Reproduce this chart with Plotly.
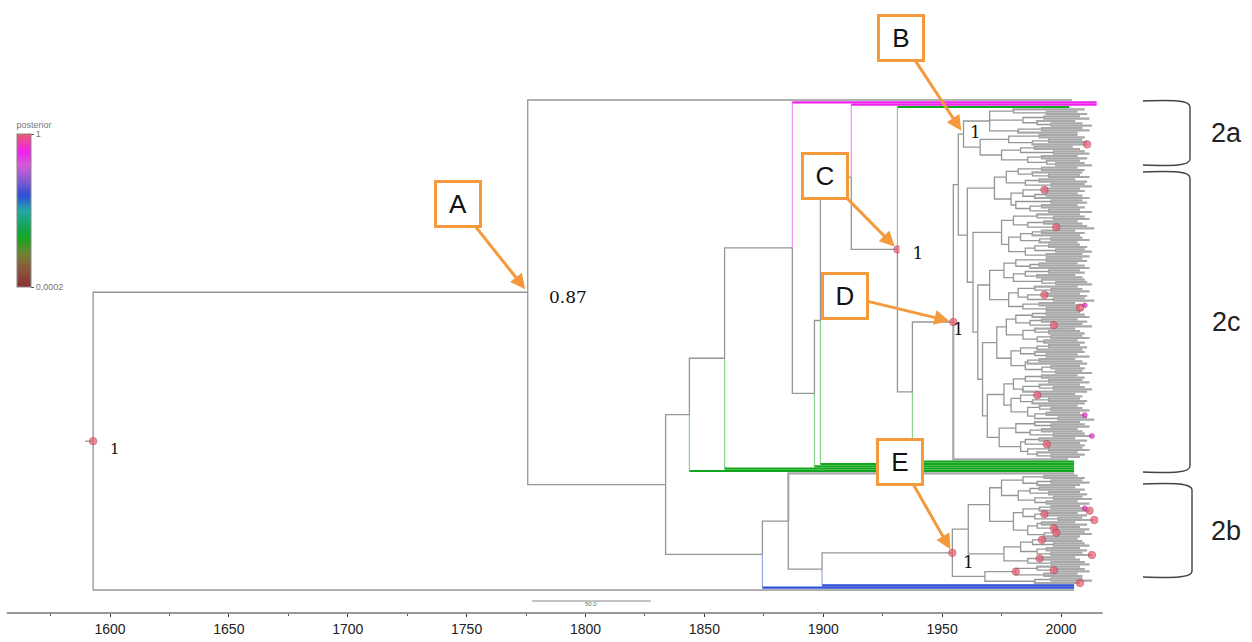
import re
import plotly.graph_objects as go

# ---------------------------------------------------------------------------
# Time-scaled tree, written as "(child,child)date" (dates in years AD).
# Decorations after a date:
#   ^v  branch coloured by its posterior v
#   *   node dot for posterior 1,  +  node dot for posterior 0.88
#   #X  named node (used for labels and call-outs)
# ---------------------------------------------------------------------------
GREEN, BLUE, MAGENTA = 0.32, 0.6, 0.88

CLADE_2A = ("(((2010,(2007,2011)1994)1980,((2008,2012)1993,(2006,(2009,2013)1996)1990)1984,"
            "((2009,2012)1992,2007)1982)1970,(((2007,2010)1991,((2009,2011)1995,2011*)1988)1978,"
            "(((2005,2008)1989,(2010,2012)1997)1983,((2007,2011)1992,(2008,(2010,2013)1998)1994)1986)1975)1966)1959")

CLADE_2C_PARTS = [
    "((((2007,2010)1992,(2009,(2008,2012)1995)1988)1982,((2006,2011)1991,(2010,2013)1996)1985)1977,"
    "(((2008,2010)1993*,((2007,2009)1994,2012)1989)1984,((2009,2011)1996,((2007,2010)1992,(2008,2013)1995)1987)1981)1979)1972",
    "(((2008,(2010,2012)1997)1990,((2007,2009)1993,(2011,2014)1998*)1986)1980,((((2006,2010)1992,2008)1988,"
    "((2009,2012)1996,2007)1991)1983,(((2008,2011)1995,(2010,2013)1998)1989,(2009,2012)1994)1985)1978)1975",
    "((((2009,2011)1994,((2007,2010)1991,2012)1987)1981,(((2008,2010)1995,(2006,2009)1990)1985,"
    "(2010,(2011,2013)1998)1992)1980)1976,(((2007,(2009,2012)1996)1989,((2008,2011)1993*,(2010,2014)1997)1986)1982,"
    "((2006,2010+)1991,(2008*,2009)1994)1984)1978)1970",
    "(((((2008,2010)1994,2012)1988,((2007,2011)1992,(2009,2013)1997*)1987)1981,((2006,(2008,2010)1995)1989,"
    "((2009,2012)1996,(2007,2010)1993)1990)1984)1977,((((2008,2011)1995,2009)1990,(2010,(2007,2012)1994)1989)1983,"
    "(((2006,2009)1991,2011)1986,((2008,2010)1996,(2009,2013)1998)1992)1985)1979)1973",
    "((((2007,2010)1992,(2009,2012)1995)1985,((2008,(2010,2013)1997)1991,2011)1984)1980,(((2006,2009)1990*,"
    "((2008,2011)1995,2010)1988)1983,((2007,(2009,2012)1996)1991,((2008,2010+)1994,(2011,2014)1999)1989)1986)1979)1976",
    "(((2008,(2010,2012)1996)1989,((2007,2009)1992,(2010,2013+)1997)1987)1981,(((2006,2011)1991,(2008,2010)1994*)1985,"
    "((2009,2012)1995,(2007,(2010,2008)1996)1990)1986)1983)1974",
]
CLADE_2C_LADDER_DATES = [1960.6, 1963.0, 1965.0, 1967.0, 1969.0]

CLADE_2B_X = ("((((2007,2010)1993,((2009,2012)1996,2008)1990)1984,(((2006,2010)1991,(2008,2011)1995)1987,"
              "((2009,2013)1997,(2007,2012)1994)1989)1982)1975,((((2008,2010+)1996,2012*)1991,"
              "((2007,2011)1993*,(2009,2014*)1999)1989)1984,(((2006,2011)1992,(2008,2012)1997*)1990,"
              "((2010,2013)1998*,2008)1993)1986)1980)1970")
CLADE_2B_Y = ("((((2007,2009)1992*,(2010,2012)1997)1988,((2008,2011)1994,(2009,2013*)1996)1990)1983,"
              "((2006,2008)1991*,(2010,2012)1996)1986)1976")
CLADE_2B_LOWER = "(((2008,(2010,2012)1997*)1990,(2007,2009)1993)1981*,((2009,2013)1996,2008*)1989)1968"

# posterior values printed at named nodes
NODE_POSTERIOR = {"R": "1", "A": "0.87", "B": "1", "C": "1", "D": "1", "E": "1"}
ROOT_STUB_START = 1589.5
SCALE_BAR = (1777.5, 50.0)          # start year, length in years
AXIS_SPAN = (1556.6, 2017.5)
MAJOR_TICKS = [1600, 1650, 1700, 1750, 1800, 1850, 1900, 1950, 2000]
MINOR_TICKS = [1575, 1625, 1675, 1725, 1775, 1825, 1875, 1925, 1975]

POSTERIOR_SCALE = [[0.0, "#8b2f35"], [0.12, "#8a5a3a"], [0.22, "#6f8234"], [0.32, "#12a81e"],
                   [0.40, "#14a45c"], [0.50, "#22a9a8"], [0.60, "#2f4fd6"], [0.70, "#8a5cd2"],
                   [0.80, "#d65ad8"], [0.88, "#f020f0"], [1.0, "#ee5a70"]]

# ---- assemble the full tree --------------------------------------------------
c2c = f"({CLADE_2C_PARTS[4]},{CLADE_2C_PARTS[5]}){CLADE_2C_LADDER_DATES[4]}"
for part, d in zip(CLADE_2C_PARTS[3::-1], CLADE_2C_LADDER_DATES[3::-1]):
    c2c = f"({part},{c2c}){d}"

node_u = f"({CLADE_2A}#B,{c2c})1956.8"
node_d = f"({node_u},2003)1954.7*#D"
node_s = f"({node_d},2005.5^{GREEN})1937.5"
node_c = f"(2003.5^{GREEN},{node_s})1931.2*#C"
node_p = f"(2015^{MAGENTA},{node_c})1911.8"
node_r = f"({node_p},2005.5^{GREEN})1898.8"
node_q = f"({node_r},2005.5^{GREEN})1896.3"
node_n4 = f"(2015^{MAGENTA},{node_q})1887.0"
node_n3 = f"({node_n4},2005.5^{GREEN})1858.5"
node_n2 = f"({node_n3},2005.5^{GREEN})1843.7"
node_e1 = f"({CLADE_2B_X},{CLADE_2B_Y})1961"
node_e = f"({node_e1},{CLADE_2B_LOWER})1954.3*#E"
node_n8 = f"({node_e},2005.5^{BLUE})1899.5"
node_n7 = f"(2005.5,{node_n8})1885.3"
node_n6 = f"({node_n7},2005.5^{BLUE})1874.4"
node_n1 = f"({node_n2},{node_n6})1833.7"
node_a = f"(2004.7,{node_n1})1775.7#A"
TREE = f"({node_a},2005.5)1592.9*#R"

TOKEN = re.compile(r"\(|\)|,|\^[0-9.]+|#\w+|\*|\+|[0-9]+(?:\.[0-9]+)?")


def parse(text):
    toks = TOKEN.findall(text)
    pos = 0

    def node():
        nonlocal pos
        n = {"kids": [], "date": None, "branch": None, "dot": None, "name": None}
        if toks[pos] == "(":
            pos += 1
            n["kids"].append(node())
            while toks[pos] == ",":
                pos += 1
                n["kids"].append(node())
            pos += 1  # ')'
        n["date"] = float(toks[pos])
        pos += 1
        while pos < len(toks) and toks[pos][0] in "^#*+":
            t = toks[pos]
            pos += 1
            if t[0] == "^":
                n["branch"] = float(t[1:])
            elif t[0] == "#":
                n["name"] = t[1:]
            elif t == "*":
                n["dot"] = 1.0
            else:
                n["dot"] = 0.88
        return n

    return node()


root = parse(TREE)

# rectangular layout: tips one slot apart, parents midway between first/last child
tips = []


def layout(n):
    if not n["kids"]:
        n["y"] = len(tips)
        tips.append(n)
    else:
        for k in n["kids"]:
            layout(k)
        n["y"] = (n["kids"][0]["y"] + n["kids"][-1]["y"]) / 2.0


layout(root)
n_tips = len(tips)

all_nodes = []


def walk(n, parent=None):
    n["parent"] = parent
    all_nodes.append(n)
    for k in n["kids"]:
        walk(k, n)


walk(root)
named = {n["name"]: n for n in all_nodes if n["name"]}


def hex_rgb(h):
    return tuple(int(h[i:i + 2], 16) for i in (1, 3, 5))


def scale_rgb(v):
    for (v0, c0), (v1, c1) in zip(POSTERIOR_SCALE[:-1], POSTERIOR_SCALE[1:]):
        if v0 <= v <= v1:
            t = 0 if v1 == v0 else (v - v0) / (v1 - v0)
            a, b = hex_rgb(c0), hex_rgb(c1)
            return tuple(round(a[i] + (b[i] - a[i]) * t) for i in range(3))
    return hex_rgb(POSTERIOR_SCALE[-1][1])


# ---- branch segments ----------------------------------------------------------
def seg_store():
    return {"x": [], "y": []}


gray_inner, gray_tip = seg_store(), seg_store()
col_vert, col_horiz = {}, {}
for n in all_nodes:
    p = n["parent"]
    if p is None:
        gray_inner["x"] += [ROOT_STUB_START, n["date"], None]
        gray_inner["y"] += [n["y"], n["y"], None]
        continue
    if n["branch"] is None:
        st = gray_inner if (n["kids"] or p is root or p["name"] == "A") else gray_tip
        st["x"] += [p["date"], p["date"], n["date"], None]
        st["y"] += [p["y"], n["y"], n["y"], None]
    else:
        v = col_vert.setdefault(n["branch"], seg_store())
        h = col_horiz.setdefault(n["branch"], seg_store())
        v["x"] += [p["date"], p["date"], None]
        v["y"] += [p["y"], n["y"], None]
        h["x"] += [p["date"], n["date"], None]
        h["y"] += [n["y"], n["y"], None]

fig = go.Figure()
fig.add_trace(go.Scatter(x=gray_tip["x"], y=gray_tip["y"], mode="lines",
                         line=dict(color="#a8a8a8", width=2.2), hoverinfo="skip", showlegend=False))
fig.add_trace(go.Scatter(x=gray_inner["x"], y=gray_inner["y"], mode="lines",
                         line=dict(color="#969696", width=1.3), hoverinfo="skip", showlegend=False))
for key in sorted(col_vert):
    r, g, b = scale_rgb(key)
    fig.add_trace(go.Scatter(x=col_vert[key]["x"], y=col_vert[key]["y"], mode="lines",
                             line=dict(color=f"rgba({r},{g},{b},0.5)", width=1.2),
                             hoverinfo="skip", showlegend=False))
    fig.add_trace(go.Scatter(x=col_horiz[key]["x"], y=col_horiz[key]["y"], mode="lines",
                             line=dict(color=f"rgb({r},{g},{b})", width=2.2),
                             hoverinfo="skip", showlegend=False))

# ---- node dots, coloured on the posterior scale (also drives the colour bar) ----
dots = [n for n in all_nodes if n["dot"] is not None]
fig.add_trace(go.Scatter(
    x=[n["date"] for n in dots], y=[n["y"] for n in dots], mode="markers",
    marker=dict(color=[n["dot"] for n in dots], colorscale=POSTERIOR_SCALE, cmin=0.0002, cmax=1,
                size=[7.5 if n["dot"] == 1 else 5 for n in dots],
                line=dict(color="rgba(150,40,60,0.8)", width=0.8),
                showscale=True,
                colorbar=dict(x=17 / 1252, xanchor="left", y=(613 - 119) / 613, yanchor="top",
                              len=168, lenmode="pixels", thickness=14, xpad=0, ypad=0,
                              outlinewidth=1, outlinecolor="#888",
                              tickvals=[0.0002, 1], ticktext=["0,0002", "1"],
                              ticks="outside", ticklen=3, tickcolor="#555",
                              tickfont=dict(family="Liberation Sans", size=9, color="#777"),
                              title=dict(text="posterior", side="top",
                                         font=dict(family="Liberation Sans", size=9, color="#777")))),
    hoverinfo="skip", showlegend=False))

# ---- pixel geometry --------------------------------------------------------------
W, H, PLOT_H = 1252, 642, 613
TIP_TOP, TIP_BOTTOM = 100, 590
slot = (TIP_BOTTOM - TIP_TOP) / (n_tips - 1)
PX_PER_YEAR = (1061 - 110) / 400.0
x_range = [1600 - 110 / PX_PER_YEAR, 1600 + (W - 110) / PX_PER_YEAR]
y_range = [(PLOT_H - TIP_TOP) / slot, -TIP_TOP / slot]


def px(x):
    return x / W


def py(y):
    return (PLOT_H - y) / PLOT_H


annotations = []
shapes = []

# posterior labels next to nodes
label_style = {
    "R": dict(xshift=15, yshift=-8, size=15),
    "A": dict(xshift=19, yshift=-5, size=17),
    "B": dict(xshift=4, yshift=2, size=17),
    "C": dict(xshift=2, yshift=-4, size=17, bg=True),
    "D": dict(xshift=-2, yshift=-7, size=17),
    "E": dict(xshift=9, yshift=-9, size=17),
}
for name, text in NODE_POSTERIOR.items():
    n = named[name]
    st = label_style[name]
    ann = dict(x=n["date"], y=n["y"], text=text, showarrow=False, xanchor="left", yanchor="middle",
               xshift=st["xshift"], yshift=st["yshift"],
               font=dict(family="DejaVu Serif", size=st["size"], color="#111"))
    if st.get("bg"):
        ann.update(bgcolor="white", width=34, height=40, align="center")
    annotations.append(ann)

# lettered call-outs with arrows to the key nodes
ORANGE = "#f59a3c"
callouts = {"A": (-70, -88), "B": (-63, -96), "C": (-72, -73), "D": (-108, -26), "E": (-52, -91)}
for name, (axp, ayp) in callouts.items():
    n = named[name]
    annotations.append(dict(
        x=n["date"], y=n["y"], ax=axp, ay=ayp, text=name, showarrow=True,
        arrowhead=2, arrowsize=1, arrowwidth=3, arrowcolor=ORANGE, standoff=4,
        bordercolor=ORANGE, borderwidth=3, borderpad=0, bgcolor="white", width=42, height=42,
        font=dict(family="Liberation Sans", size=26, color="#111")))

# clade brackets
BRACKETS = [("2a", 101, 165, 1190), ("2c", 172, 472, 1190), ("2b", 484, 577, 1192)]
for label, top, bot, xr in BRACKETS:
    xl = 1143
    d = (f"M {px(xl)},{py(top)} C {px(xl + 30)},{py(top - 1)} {px(xr)},{py(top - 1)} {px(xr)},{py(top + 6)} "
         f"L {px(xr)},{py(bot - 6)} C {px(xr)},{py(bot + 1)} {px(xl + 30)},{py(bot + 1)} {px(xl)},{py(bot)}")
    shapes.append(dict(type="path", path=d, xref="paper", yref="paper",
                       line=dict(color="#444", width=1.4)))
    annotations.append(dict(x=px(1226), y=py((top + bot) / 2), xref="paper", yref="paper",
                            text=label, showarrow=False, xanchor="center", yanchor="middle",
                            font=dict(family="Liberation Sans", size=27, color="#222")))

# time axis baseline and scale bar
shapes.append(dict(type="line", xref="x", yref="paper", x0=AXIS_SPAN[0], x1=AXIS_SPAN[1],
                   y0=0, y1=0, line=dict(color="#333", width=1.2)))
sb0, sbl = SCALE_BAR
shapes.append(dict(type="line", xref="x", yref="paper", x0=sb0, x1=sb0 + sbl,
                   y0=py(601), y1=py(601), line=dict(color="#888", width=1)))
annotations.append(dict(x=sb0 + sbl / 2, y=py(609), xref="x", yref="paper", text=f"{sbl:.1f}",
                        showarrow=False, font=dict(family="Liberation Sans", size=6, color="#666")))

fig.update_layout(
    width=W, height=H, margin=dict(l=0, r=0, t=0, b=H - PLOT_H),
    paper_bgcolor="white", plot_bgcolor="white",
    annotations=annotations, shapes=shapes,
    xaxis=dict(range=x_range, showgrid=False, zeroline=False, showline=False,
               tickvals=MAJOR_TICKS, ticks="outside", ticklen=3, tickcolor="#333",
               tickfont=dict(family="Liberation Sans", size=14, color="#222"),
               minor=dict(tickvals=MINOR_TICKS, ticks="outside", ticklen=2, tickcolor="#555")),
    yaxis=dict(range=y_range, visible=False),
)

fig.write_html("out.html")
